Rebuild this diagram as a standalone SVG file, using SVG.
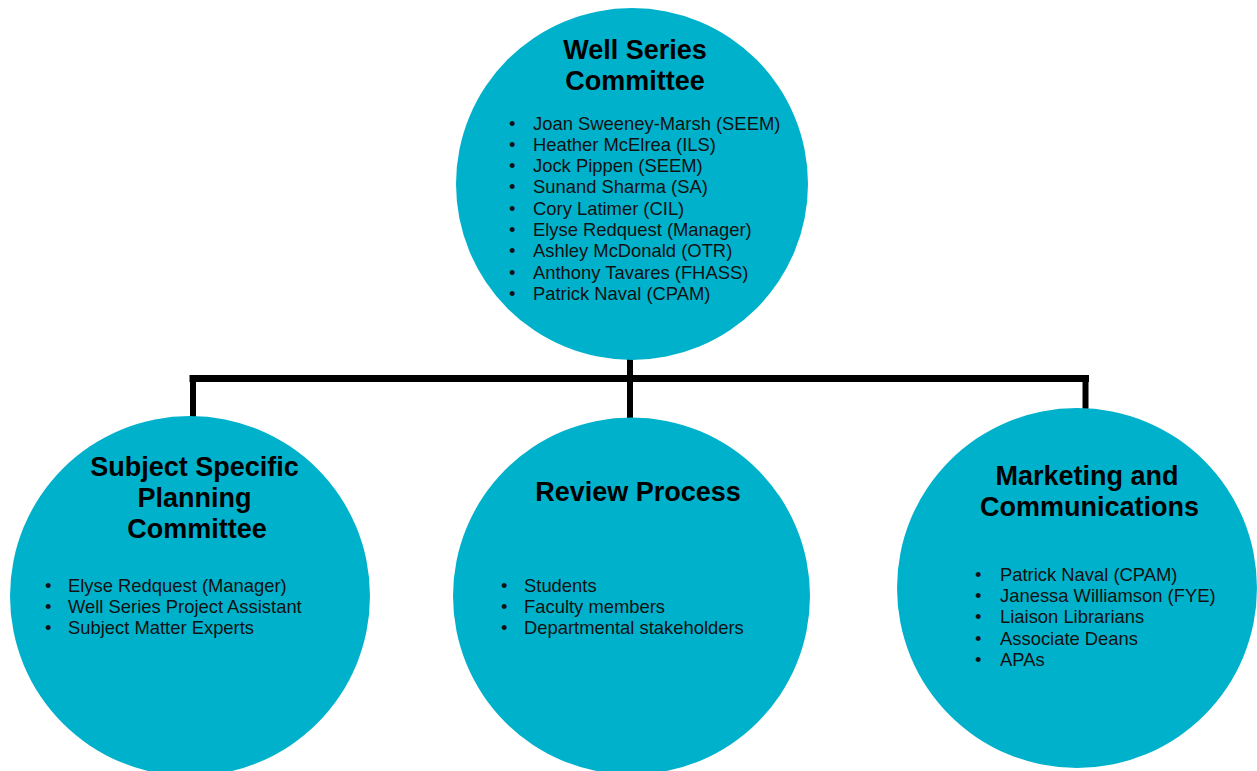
<svg xmlns="http://www.w3.org/2000/svg" width="1257" height="771" viewBox="0 0 1257 771">
<style>
.node{fill:#00B1CC;}
.title{font-family:"Liberation Sans",Arial,sans-serif;font-weight:bold;font-size:27px;fill:#000;text-anchor:middle;}
.item{font-family:"Liberation Sans",Arial,sans-serif;font-size:18.4px;fill:#111;}
.conn{stroke:#000;fill:none;stroke-linecap:butt;stroke-linejoin:miter;}
</style>
<rect width="1257" height="771" fill="#fff"/>
<g id="connectors">
<line class="conn" x1="189.5" y1="378.5" x2="1089" y2="378.5" stroke-width="7"/>
<line class="conn" x1="193" y1="375" x2="193" y2="420" stroke-width="6"/>
<line class="conn" x1="630" y1="350" x2="630" y2="420" stroke-width="6"/>
<line class="conn" x1="1085.5" y1="375" x2="1085.5" y2="412" stroke-width="6"/>
</g>
<g id="well-series-committee">
<circle class="node" cx="632" cy="184" r="176"/>
<text class="title" x="635" y="59">Well Series</text>
<text class="title" x="635" y="90">Committee</text>
<text class="item">
<tspan x="509" y="129.5">•</tspan><tspan x="533" y="129.5">Joan Sweeney-Marsh (SEEM)</tspan>
<tspan x="509" y="150.8">•</tspan><tspan x="533" y="150.8">Heather McElrea (ILS)</tspan>
<tspan x="509" y="172.1">•</tspan><tspan x="533" y="172.1">Jock Pippen (SEEM)</tspan>
<tspan x="509" y="193.4">•</tspan><tspan x="533" y="193.4">Sunand Sharma (SA)</tspan>
<tspan x="509" y="214.7">•</tspan><tspan x="533" y="214.7">Cory Latimer (CIL)</tspan>
<tspan x="509" y="236">•</tspan><tspan x="533" y="236">Elyse Redquest (Manager)</tspan>
<tspan x="509" y="257.3">•</tspan><tspan x="533" y="257.3">Ashley McDonald (OTR)</tspan>
<tspan x="509" y="278.6">•</tspan><tspan x="533" y="278.6">Anthony Tavares (FHASS)</tspan>
<tspan x="509" y="299.9">•</tspan><tspan x="533" y="299.9">Patrick Naval (CPAM)</tspan>
</text>
</g>
<g id="subject-specific-planning-committee">
<circle class="node" cx="190" cy="596" r="180"/>
<text class="title" x="194.5" y="476">Subject Specific</text>
<text class="title" x="194.5" y="507">Planning</text>
<text class="title" x="197" y="538">Committee</text>
<text class="item">
<tspan x="45" y="591.7">•</tspan><tspan x="68" y="591.7">Elyse Redquest (Manager)</tspan>
<tspan x="45" y="613">•</tspan><tspan x="68" y="613">Well Series Project Assistant</tspan>
<tspan x="45" y="634.3">•</tspan><tspan x="68" y="634.3">Subject Matter Experts</tspan>
</text>
</g>
<g id="review-process">
<circle class="node" cx="631.5" cy="596" r="178.5"/>
<text class="title" x="638" y="501">Review Process</text>
<text class="item">
<tspan x="501" y="591.7">•</tspan><tspan x="524" y="591.7">Students</tspan>
<tspan x="501" y="613">•</tspan><tspan x="524" y="613">Faculty members</tspan>
<tspan x="501" y="634.3">•</tspan><tspan x="524" y="634.3">Departmental stakeholders</tspan>
</text>
</g>
<g id="marketing-and-communications">
<circle class="node" cx="1077" cy="588" r="180"/>
<text class="title" x="1087" y="485">Marketing and</text>
<text class="title" x="1089.5" y="516">Communications</text>
<text class="item">
<tspan x="975" y="580.7">•</tspan><tspan x="1000" y="580.7">Patrick Naval (CPAM)</tspan>
<tspan x="975" y="602">•</tspan><tspan x="1000" y="602">Janessa Williamson (FYE)</tspan>
<tspan x="975" y="623.3">•</tspan><tspan x="1000" y="623.3">Liaison Librarians</tspan>
<tspan x="975" y="644.6">•</tspan><tspan x="1000" y="644.6">Associate Deans</tspan>
<tspan x="975" y="665.9">•</tspan><tspan x="1000" y="665.9">APAs</tspan>
</text>
</g>
</svg>
